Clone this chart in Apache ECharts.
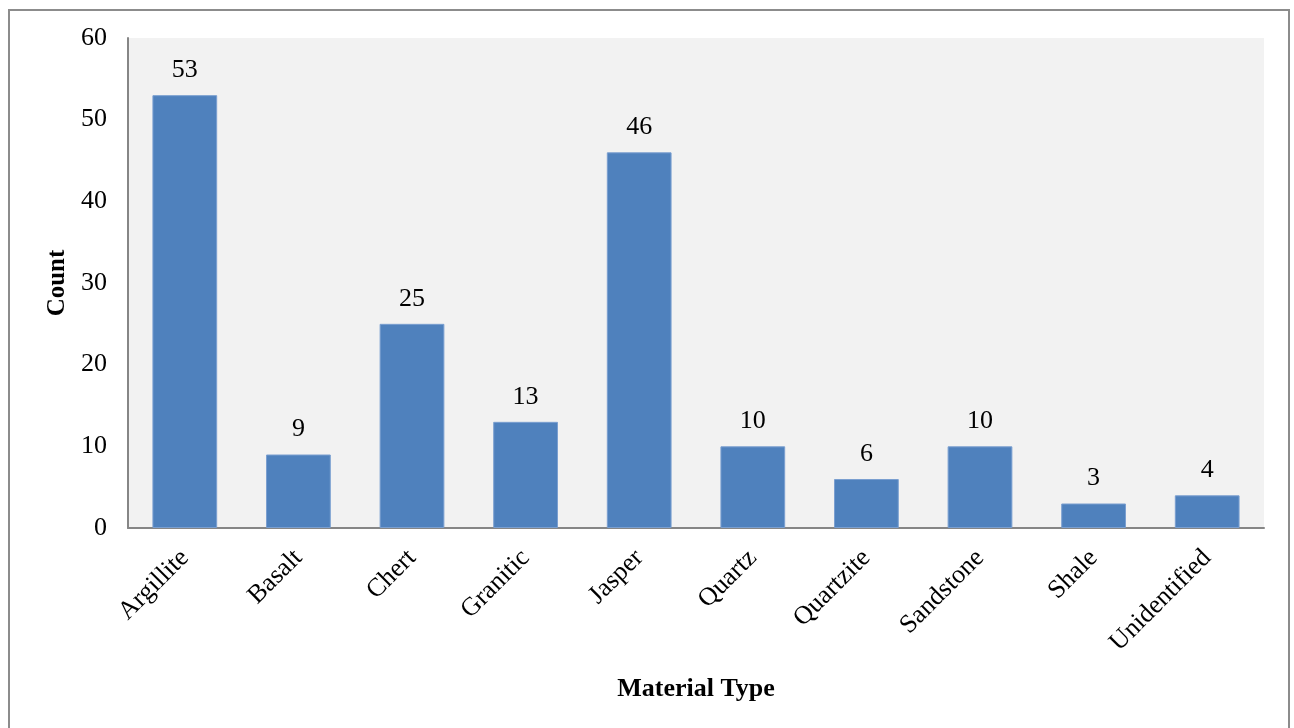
<!DOCTYPE html>
<html>
<head>
<meta charset="utf-8">
<script src="https://cdn.jsdelivr.net/npm/echarts@6/dist/echarts.min.js"></script>
<style>
  html, body { margin: 0; padding: 0; background: #fff; overflow: hidden; }
  #frame { position: absolute; left: 8px; top: 9px; width: 1282px; height: 760px; border: 2px solid #8c8c8c; box-sizing: border-box; }
  #chart { position: absolute; left: 0; top: 0; width: 1294px; height: 728px; }
</style>
</head>
<body>
<div id="frame"></div>
<div id="chart"></div>
<script>
// Counts of artifacts by material type
const categories = ['Argillite', 'Basalt', 'Chert', 'Granitic', 'Jasper', 'Quartz', 'Quartzite', 'Sandstone', 'Shale', 'Unidentified'];
const counts = [53, 9, 25, 13, 46, 10, 6, 10, 3, 4];

const serif = '"Liberation Serif", "Times New Roman", serif';

const chart = echarts.init(document.getElementById('chart'), null, { renderer: 'canvas' });
chart.setOption({
  animation: false,
  backgroundColor: 'transparent',
  textStyle: { fontFamily: serif, color: '#000' },
  grid: {
    left: 128, right: 30, top: 38, bottom: 200,
    show: true, backgroundColor: '#f2f2f2', borderWidth: 0
  },
  xAxis: {
    type: 'category',
    data: categories,
    name: 'Material Type',
    nameLocation: 'middle',
    nameGap: 148,
    nameTextStyle: { fontFamily: serif, fontSize: 26, fontWeight: 'bold', color: '#000' },
    axisLine: { lineStyle: { color: '#868686', width: 2 } },
    axisTick: { show: false },
    axisLabel: { rotate: 45, margin: 26, fontFamily: serif, fontSize: 26, color: '#000', interval: 0 }
  },
  yAxis: {
    type: 'value',
    min: 0, max: 60, interval: 10,
    name: 'Count',
    nameLocation: 'middle',
    nameGap: 57,
    nameRotate: 90,
    nameTextStyle: { fontFamily: serif, fontSize: 25, fontWeight: 'bold', color: '#000' },
    axisLine: { show: true, lineStyle: { color: '#868686', width: 2 } },
    axisTick: { show: false },
    splitLine: { show: false },
    axisLabel: { margin: 21, padding: [6, 0, 0, 0], fontFamily: serif, fontSize: 26, color: '#000' }
  },
  series: [{
    type: 'bar',
    data: counts,
    barWidth: '57%',
    itemStyle: { color: '#4f81bd', borderColor: '#7a9fd0', borderWidth: 1 },
    label: { show: true, position: 'top', distance: 12, fontFamily: serif, fontSize: 26, color: '#000' }
  }]
});
</script>
</body>
</html>
